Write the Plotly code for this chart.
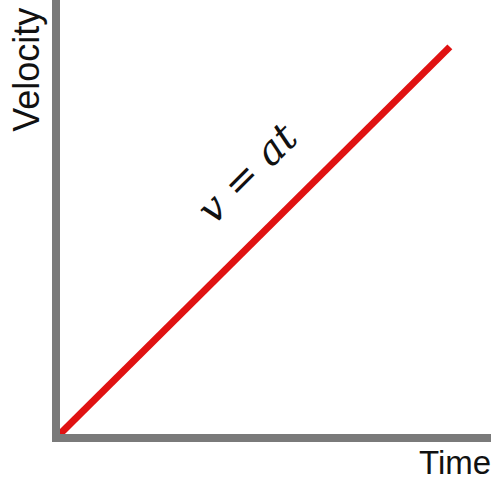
import plotly.graph_objects as go

# Data
time = [0, 9]
velocity = [0, 9]
x_label = "Time"
y_label = "Velocity"
equation = "<i>v</i> = <i>at</i>"

W, H = 491, 485
L, R, T, B = 60, 0, 0, 51

fig = go.Figure()
fig.add_trace(go.Scatter(
    x=time, y=velocity, mode="lines",
    line=dict(color="#e01212", width=7),
    hoverinfo="skip", showlegend=False,
))

fig.update_layout(
    width=W, height=H,
    margin=dict(l=L, r=R, t=T, b=B, pad=0),
    paper_bgcolor="white", plot_bgcolor="white",
    xaxis=dict(range=[0, 9.95], showline=True, linecolor="#7a7a7a", linewidth=8,
               showgrid=False, zeroline=False, showticklabels=False, ticks=""),
    yaxis=dict(range=[0, 10.09], showline=True, linecolor="#7a7a7a", linewidth=8,
               showgrid=False, zeroline=False, showticklabels=False, ticks=""),
    annotations=[
        dict(text=y_label, xref="paper", yref="paper", x=-0.0766, y=0.839,
             xanchor="center", yanchor="middle", textangle=-90, showarrow=False,
             font=dict(family="Liberation Sans, Arial", size=36, color="#111111")),
        dict(text=x_label, xref="paper", yref="paper", x=0.9165, y=-0.0668,
             xanchor="center", yanchor="middle", showarrow=False,
             font=dict(family="Liberation Sans, Arial", size=33, color="#111111")),
        dict(text=equation, xref="x", yref="y", x=4.32, y=6.07,
             xanchor="center", yanchor="middle", textangle=-45, showarrow=False,
             font=dict(family="DejaVu Serif", size=40, color="#111111")),
    ],
)

fig.write_html("out.html", config={"displayModeBar": False},
               post_script="document.body.style.margin='0';")
